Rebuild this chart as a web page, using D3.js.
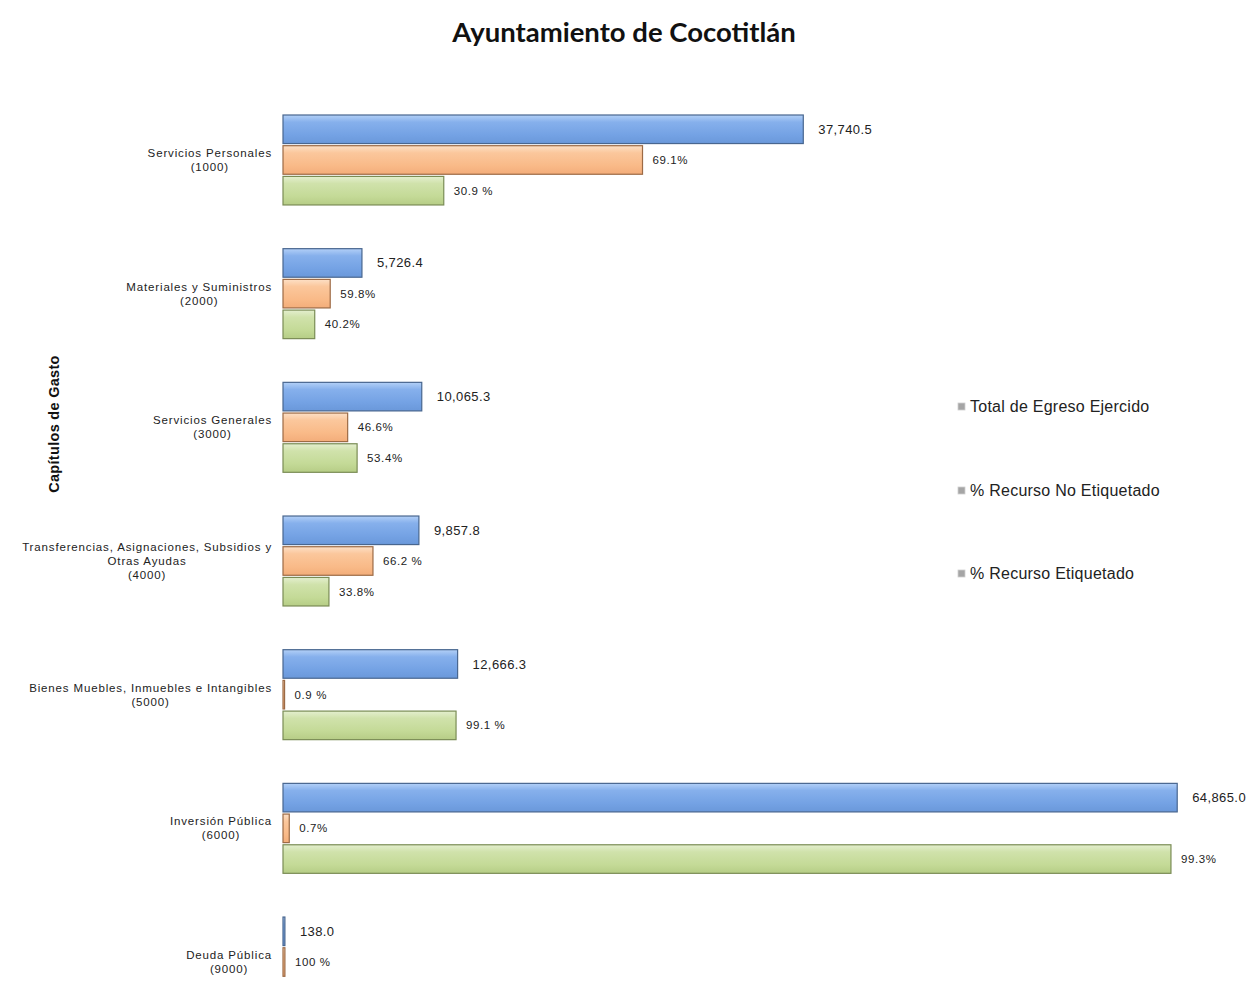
<!DOCTYPE html>
<html>
<head>
<meta charset="utf-8">
<script src="https://cdn.jsdelivr.net/npm/d3@7"></script>
<style>
  html, body { margin: 0; padding: 0; background: #fff; }
  svg { display: block; }
</style>
</head>
<body>
<svg id="chart" width="1250" height="982"></svg>
<script>
// ---- Data ----
const title = "Ayuntamiento de Cocotitlán";
const yAxisTitle = "Capítulos de Gasto";
const categories = [
  "Servicios Personales\n(1000)",
  "Materiales y Suministros\n(2000)",
  "Servicios Generales\n(3000)",
  "Transferencias, Asignaciones, Subsidios y\nOtras Ayudas\n(4000)",
  "Bienes Muebles, Inmuebles e Intangibles\n(5000)",
  "Inversión Pública\n(6000)",
  "Deuda Pública\n(9000)"
];
const seriesNames = ["Total de Egreso Ejercido", "% Recurso No Etiquetado", "% Recurso Etiquetado"];
const totalEgreso = [37740.5, 5726.4, 10065.3, 9857.8, 12666.3, 64865.0, 138.0];
const pctNoEtiquetado = [69.1, 59.8, 46.6, 66.2, 0.9, 0.7, 100];
const pctEtiquetado = [30.9, 40.2, 53.4, 33.8, 99.1, 99.3, 0];
const labelsNoEtiquetado = ["69.1%", "59.8%", "46.6%", "66.2 %", "0.9 %", "0.7%", "100 %"];
const labelsEtiquetado = ["30.9 %", "40.2%", "53.4%", "33.8%", "99.1 %", "99.3%", ""];

// ---- Build rows ----
const rows = categories.map((c, i) => ({
  cat: c,
  bars: [
    { s: 0, value: totalEgreso[i], label: d3.format(",.1f")(totalEgreso[i]) },
    { s: 1, value: totalEgreso[i] * pctNoEtiquetado[i] / 100, label: labelsNoEtiquetado[i] },
    { s: 2, value: totalEgreso[i] * pctEtiquetado[i] / 100, label: labelsEtiquetado[i] }
  ]
}));

const svg = d3.select("#chart");
svg.append("rect").attr("width", 1250).attr("height", 982).attr("fill", "#fff");

// gradients
const defs = svg.append("defs");
const grads = [
  { id: "gBlue", stops: ["#b3d0f7", "#86b0ec", "#74a2e4", "#6a98da"] },
  { id: "gOrange", stops: ["#fde0c6", "#fbc79c", "#f9ba88", "#f3ad7a"] },
  { id: "gGreen", stops: ["#e4efcf", "#d0e2ab", "#c4da97", "#b6cd86"] }
];
grads.forEach(g => {
  const lg = defs.append("linearGradient").attr("id", g.id)
    .attr("x1", 0).attr("y1", 0).attr("x2", 0).attr("y2", 1);
  [0, 0.25, 0.7, 1].forEach((o, k) => lg.append("stop").attr("offset", o).attr("stop-color", g.stops[k]));
});
const strokes = ["#48668f", "#9c6a45", "#7a8c55"];
const fills = ["url(#gBlue)", "url(#gOrange)", "url(#gGreen)"];

// scales
const x = d3.scaleLinear().domain([0, 70000]).range([283, 1248]);
const y = d3.scaleBand().domain(categories).range([115, 1007]).paddingInner(0.327).paddingOuter(0);
const ys = d3.scaleBand().domain([0, 1, 2]).range([0, y.bandwidth()]).paddingInner(0.07);

// title
svg.append("text")
  .attr("x", 624).attr("y", 42)
  .attr("text-anchor", "middle")
  .style("font-family", "Lato, 'Open Sans', sans-serif")
  .style("font-weight", "bold")
  .style("font-size", "27.5px")
  .attr("fill", "#111")
  .text(title);

// y axis title
svg.append("text")
  .attr("transform", "translate(59,424) rotate(-90)")
  .attr("text-anchor", "middle")
  .style("font-family", "'Liberation Sans', Arial, sans-serif")
  .style("font-weight", "bold")
  .style("font-size", "14.5px")
  .style("letter-spacing", "0.3px")
  .attr("fill", "#111")
  .text(yAxisTitle);

// groups
const groups = svg.append("g").selectAll("g").data(rows).join("g")
  .attr("transform", d => `translate(0,${y(d.cat)})`);

groups.selectAll("rect").data(d => d.bars.filter(b => b.value > 0)).join("rect")
  .attr("x", x(0))
  .attr("y", b => ys(b.s))
  .attr("width", b => Math.max(0.8, x(b.value) - x(0)))
  .attr("height", ys.bandwidth())
  .attr("fill", b => fills[b.s])
  .attr("stroke", b => strokes[b.s])
  .attr("stroke-width", 1.2);

const labelOffset = [15, 10, 10];
groups.selectAll("text.val").data(d => d.bars.filter(b => b.label)).join("text")
  .attr("class", "val")
  .attr("x", b => x(b.value) + labelOffset[b.s])
  .attr("y", b => ys(b.s) + ys.bandwidth() / 2)
  .attr("dy", "0.35em")
  .style("font-family", "'Liberation Sans', Arial, sans-serif")
  .style("font-size", b => b.s === 0 ? "13px" : "11.5px")
  .style("letter-spacing", b => b.s === 0 ? "0.4px" : "0.6px")
  .attr("fill", "#222")
  .text(b => b.label);

// category labels (multi-line, centered lines, block right-aligned)
const catG = svg.append("g");
rows.forEach(r => {
  const lines = r.cat.split("\n");
  const lh = 14;
  const cy = y(r.cat) + y.bandwidth() / 2;
  const t = catG.append("text")
    .style("font-family", "'Liberation Sans', Arial, sans-serif")
    .style("font-size", "11.5px")
    .style("letter-spacing", "0.85px")
    .attr("fill", "#222")
    .attr("text-anchor", "middle");
  const spans = lines.map((ln, k) => t.append("tspan")
    .attr("y", cy + (k - (lines.length - 1) / 2) * lh)
    .attr("dy", "0.35em")
    .text(ln));
  const maxW = d3.max(spans, s => s.node().getComputedTextLength());
  const cx = 272 - maxW / 2;
  spans.forEach(s => s.attr("x", cx));
});

// legend
const legend = svg.append("g");
const legY = [406, 490, 573];
seriesNames.forEach((n, i) => {
  legend.append("rect")
    .attr("x", 958).attr("y", legY[i] - 3)
    .attr("width", 7).attr("height", 7)
    .attr("fill", "#a5a5a5").attr("stroke", "#d0d0d0").attr("stroke-width", 0.8);
  legend.append("text")
    .attr("x", 970).attr("y", legY[i])
    .attr("dy", "0.35em")
    .style("font-family", "'Liberation Sans', Arial, sans-serif")
    .style("font-size", "16px")
    .style("letter-spacing", "0.25px")
    .attr("fill", "#222")
    .text(n);
});
</script>
</body>
</html>
